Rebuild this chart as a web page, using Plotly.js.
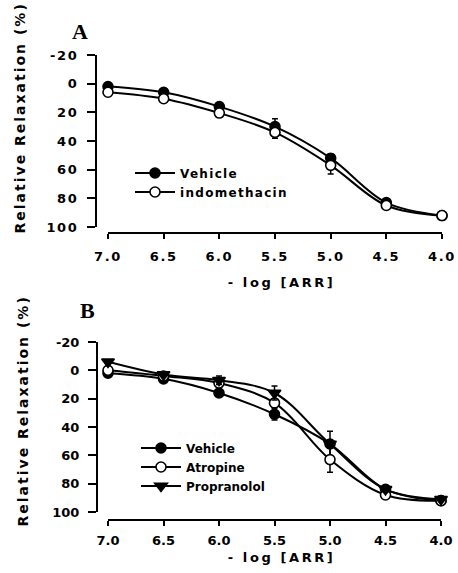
<!DOCTYPE html>
<html>
<head>
<meta charset="utf-8">
<script src="https://cdn.plot.ly/plotly-3.0.1.min.js"></script>
<style>
  html, body { margin: 0; padding: 0; background: #fff; }
  #chart { width: 458px; height: 573px; }
  .xtick text, .ytick text { letter-spacing: 1.6px; }
  .legendtext { letter-spacing: 1.3px; }
  .annotation-text { letter-spacing: 2px; }
  .annotation[data-index="2"] .annotation-text,
  .annotation[data-index="3"] .annotation-text { letter-spacing: 2.6px; }
</style>
</head>
<body>
<div id="chart"></div>
<script>
// ---- data ----
const logConc = [7.0, 6.5, 6.0, 5.5, 5.0, 4.5, 4.0];
const xTickText = ['7.0', '6.5', '6.0', '5.5', '5.0', '4.5', '4.0'];
const yTickVals = [-20, 0, 20, 40, 60, 80, 100];
const yTickText = ['-20', '0', '20', '40', '60', '80', '100'];

// Panel A
const vehicleA      = [2, 6, 16, 30, 52, 83, 92];
const vehicleAErr   = [1, 1.5, 2, 5.5, 3, 2, 1];
const indomethacinA    = [6, 10.5, 20.5, 34, 57, 85, 92];
const indomethacinAErr = [1, 1.5, 2, 4, 6, 2, 1];

// Panel B
const vehicleB      = [2, 6, 16, 31, 52, 84, 92];
const vehicleBErr   = [1, 1.5, 2, 4, 9, 2, 1];
const atropineB     = [0, 4, 9, 23, 63, 88, 92];
const atropineBErr  = [1, 1, 2, 3, 9, 2, 1];
const propranololB     = [-6, 3, 7, 16, 52, 84, 91];
const propranololBErr  = [1, 1, 3, 5, 3, 2, 1];

// ---- helpers ----
const W = 458, H = 573;
const px = v => v / W;
const py = v => 1 - v / H;
const FONT = 'DejaVu Sans, Liberation Sans, Arial, sans-serif';

function trace(y, err, name, symbol, fill, xa, ya, legend) {
  return {
    x: logConc, y: y, name: name, type: 'scatter', mode: 'lines+markers',
    xaxis: xa, yaxis: ya, legend: legend, cliponaxis: false,
    line: { color: '#000', width: 2, shape: 'spline', smoothing: 1 },
    marker: { symbol: symbol, size: symbol.indexOf('triangle') === 0 ? 11 : 10,
              color: fill, line: { color: '#000', width: 1.6 } },
    error_y: { type: 'data', array: err, visible: true, color: '#000', thickness: 1.5, width: 3 }
  };
}

const data = [
  trace(vehicleA, vehicleAErr, 'Vehicle', 'circle', '#000', 'x', 'y', 'legend'),
  trace(indomethacinA, indomethacinAErr, 'indomethacin', 'circle', '#fff', 'x', 'y', 'legend'),
  trace(vehicleB, vehicleBErr, 'Vehicle', 'circle', '#000', 'x2', 'y2', 'legend2'),
  trace(atropineB, atropineBErr, 'Atropine', 'circle', '#fff', 'x2', 'y2', 'legend2'),
  trace(propranololB, propranololBErr, 'Propranolol', 'triangle-down', '#000', 'x2', 'y2', 'legend2')
];

function xAxis(d0, d1, pos, standoff) {
  return {
    domain: [d0, d1], range: [7.0, 4.0], anchor: 'free', position: pos,
    showline: true, linecolor: '#000', linewidth: 2,
    ticks: 'outside', ticklen: 5, tickwidth: 2, tickcolor: '#000',
    tickvals: logConc, ticktext: xTickText, ticklabelstandoff: standoff,
    tickfont: { family: FONT, size: 13, color: '#000', weight: 700 },
    showgrid: false, zeroline: false, fixedrange: true, automargin: false
  };
}
function yAxis(d0, d1, pos) {
  return {
    domain: [d0, d1], range: [100, -20], anchor: 'free', position: pos,
    showline: true, linecolor: '#000', linewidth: 2,
    ticks: 'outside', ticklen: 8, tickwidth: 2, tickcolor: '#000',
    tickvals: yTickVals, ticktext: yTickText, ticklabelstandoff: 6,
    tickfont: { family: FONT, size: 13, color: '#000', weight: 700 },
    showgrid: false, zeroline: false, fixedrange: true, automargin: false
  };
}

const legFont = { family: FONT, size: 12, color: '#000', weight: 700 };
const annFont = { family: FONT, size: 13, color: '#000', weight: 700 };
const yTitleFont = { family: FONT, size: 14, color: '#000', weight: 700 };
const panelFont = { family: 'Liberation Serif, Times New Roman, serif', size: 22, color: '#000', weight: 700 };

const layout = {
  width: W, height: H,
  margin: { l: 0, r: 0, t: 0, b: 0 },
  paper_bgcolor: '#fff', plot_bgcolor: '#fff',
  showlegend: true,
  xaxis: xAxis(px(108), px(442), py(233), 6),
  yaxis: yAxis(py(227), py(55), px(96)),
  xaxis2: xAxis(px(108), px(441), py(520), 3),
  yaxis2: yAxis(py(512), py(342), px(97)),
  legend: {
    x: px(130), y: py(158.5), xanchor: 'left', yanchor: 'top',
    bgcolor: 'rgba(0,0,0,0)', font: legFont, itemwidth: 40, traceorder: 'normal'
  },
  legend2: {
    x: px(136), y: py(433.5), xanchor: 'left', yanchor: 'top',
    bgcolor: 'rgba(0,0,0,0)', font: legFont, itemwidth: 40, traceorder: 'normal'
  },
  annotations: [
    { text: 'Relative Relaxation (%)', x: px(19.5), y: py(118), xref: 'paper', yref: 'paper',
      textangle: -90, showarrow: false, xanchor: 'center', yanchor: 'middle', font: yTitleFont },
    { text: 'Relative Relaxation (%)', x: px(22.5), y: py(411), xref: 'paper', yref: 'paper',
      textangle: -90, showarrow: false, xanchor: 'center', yanchor: 'middle', font: yTitleFont },
    { text: '- log [ARR]', x: px(281), y: py(283), xref: 'paper', yref: 'paper',
      showarrow: false, xanchor: 'center', yanchor: 'middle', font: annFont },
    { text: '- log [ARR]', x: px(281), y: py(557), xref: 'paper', yref: 'paper',
      showarrow: false, xanchor: 'center', yanchor: 'middle', font: annFont },
    { text: 'A', x: px(81), y: py(31), xref: 'paper', yref: 'paper',
      showarrow: false, xanchor: 'center', yanchor: 'middle', font: panelFont },
    { text: 'B', x: px(88), y: py(310), xref: 'paper', yref: 'paper',
      showarrow: false, xanchor: 'center', yanchor: 'middle', font: panelFont }
  ]
};

Plotly.newPlot('chart', data, layout, { staticPlot: true, displayModeBar: false });
</script>
</body>
</html>
